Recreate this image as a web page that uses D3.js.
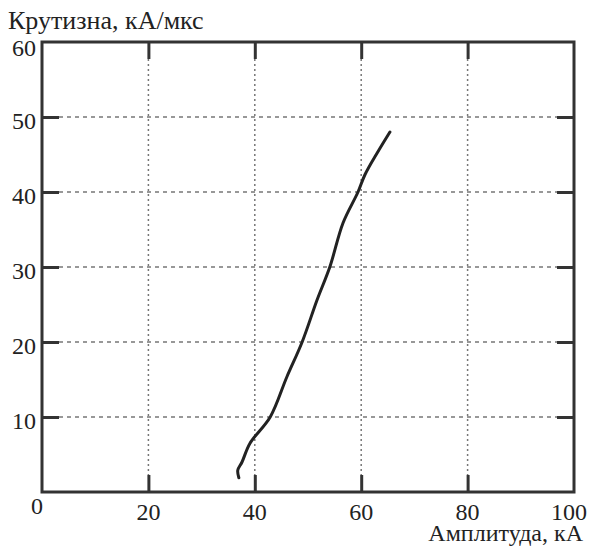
<!DOCTYPE html>
<head>
    <meta charset="utf-8">
    <title>Крутизна от амплитуды</title>
    <style>
        body { margin: 0; background: #fff; }
        text { font-family: "Liberation Serif", "DejaVu Serif", serif; fill: #222; }
    </style>
</head>
<body>
<div id="chart"></div>
<script src="https://d3js.org/d3.v7.min.js"></script>
<script>

// Data
var amplitude = [37.0, 36.8, 37.6, 39.1, 42.9, 46.0, 48.9, 51.7, 54.1, 56.6, 59.4, 60.7, 63.0, 65.4];
var steepness = [1.9, 2.9, 4.0, 6.5, 10.0, 15.3, 20.0, 25.6, 30.0, 35.9, 40.0, 42.3, 45.2, 48.0];
var xTicks = [20, 40, 60, 80, 100];
var yTicks = [10, 20, 30, 40, 50, 60];

var width = 589, height = 547;
var margin = {top: 42, right: 15, bottom: 55, left: 42};

var svg = d3.select("#chart").append("svg")
    .attr("width", width)
    .attr("height", height);

var x = d3.scaleLinear().domain([0, 100]).range([margin.left, width - margin.right]);
var y = d3.scaleLinear().domain([0, 60]).range([height - margin.bottom, margin.top]);

var tick = 17;

// grid lines
svg.append("g")
    .selectAll("line")
    .data([20, 40, 60, 80])
    .enter().append("line")
    .attr("x1", function(d) { return x(d); })
    .attr("x2", function(d) { return x(d); })
    .attr("y1", y(60) + tick)
    .attr("y2", y(0) - tick)
    .attr("stroke", "#777")
    .attr("stroke-width", 1.5)
    .attr("stroke-dasharray", "2,3");

svg.append("g")
    .selectAll("line")
    .data([10, 20, 30, 40, 50])
    .enter().append("line")
    .attr("y1", function(d) { return y(d); })
    .attr("y2", function(d) { return y(d); })
    .attr("x1", x(0) + tick)
    .attr("x2", x(100) - tick)
    .attr("stroke", "#777")
    .attr("stroke-width", 1.5)
    .attr("stroke-dasharray", "4,4");

// inner ticks on all four sides
function styleAxis(g) {
    g.select(".domain").remove();
    g.selectAll(".tick line").attr("stroke", "#333").attr("stroke-width", 3);
    g.selectAll(".tick text").remove();
}

svg.append("g")
    .attr("transform", "translate(0," + y(0) + ")")
    .call(d3.axisBottom(x).tickValues([20, 40, 60, 80]).tickSize(-tick))
    .call(styleAxis);
svg.append("g")
    .attr("transform", "translate(0," + y(60) + ")")
    .call(d3.axisTop(x).tickValues([20, 40, 60, 80]).tickSize(-tick))
    .call(styleAxis);
svg.append("g")
    .attr("transform", "translate(" + x(0) + ",0)")
    .call(d3.axisLeft(y).tickValues([10, 20, 30, 40, 50]).tickSize(-tick))
    .call(styleAxis);
svg.append("g")
    .attr("transform", "translate(" + x(100) + ",0)")
    .call(d3.axisRight(y).tickValues([10, 20, 30, 40, 50]).tickSize(-tick))
    .call(styleAxis);

// frame
svg.append("rect")
    .attr("x", x(0))
    .attr("y", y(60))
    .attr("width", x(100) - x(0))
    .attr("height", y(0) - y(60))
    .attr("fill", "none")
    .attr("stroke", "#333")
    .attr("stroke-width", 3);

// tick labels
svg.append("g")
    .selectAll("text")
    .data(yTicks)
    .enter().append("text")
    .attr("x", x(0) - 6)
    .attr("y", function(d) { return y(d) + (d === 60 ? 6 : 4); })
    .attr("dy", "0.35em")
    .attr("text-anchor", "end")
    .attr("font-size", 24)
    .text(function(d) { return d; });

svg.append("g")
    .selectAll("text")
    .data(xTicks)
    .enter().append("text")
    .attr("x", function(d) { return x(d) + (d === 100 ? -5 : 0); })
    .attr("y", y(0) + 28)
    .attr("text-anchor", "middle")
    .attr("font-size", 24)
    .text(function(d) { return d; });

svg.append("text")
    .attr("x", x(0) - 5)
    .attr("y", y(0) + 22)
    .attr("text-anchor", "middle")
    .attr("font-size", 24)
    .text("0");

// axis titles
svg.append("text")
    .attr("x", 8)
    .attr("y", 29)
    .attr("font-size", 26)
    .text("Крутизна, кА/мкс");

svg.append("text")
    .attr("x", 583)
    .attr("y", 541)
    .attr("text-anchor", "end")
    .attr("font-size", 24)
    .text("Амплитуда, кА");

// curve
var points = amplitude.map(function(a, i) { return [a, steepness[i]]; });
var line = d3.line()
    .x(function(d) { return x(d[0]); })
    .y(function(d) { return y(d[1]); })
    .curve(d3.curveCatmullRom);

svg.append("path")
    .datum(points)
    .attr("d", line)
    .attr("fill", "none")
    .attr("stroke", "#222")
    .attr("stroke-width", 3)
    .attr("stroke-linecap", "round");

</script>
</body>
</html>
